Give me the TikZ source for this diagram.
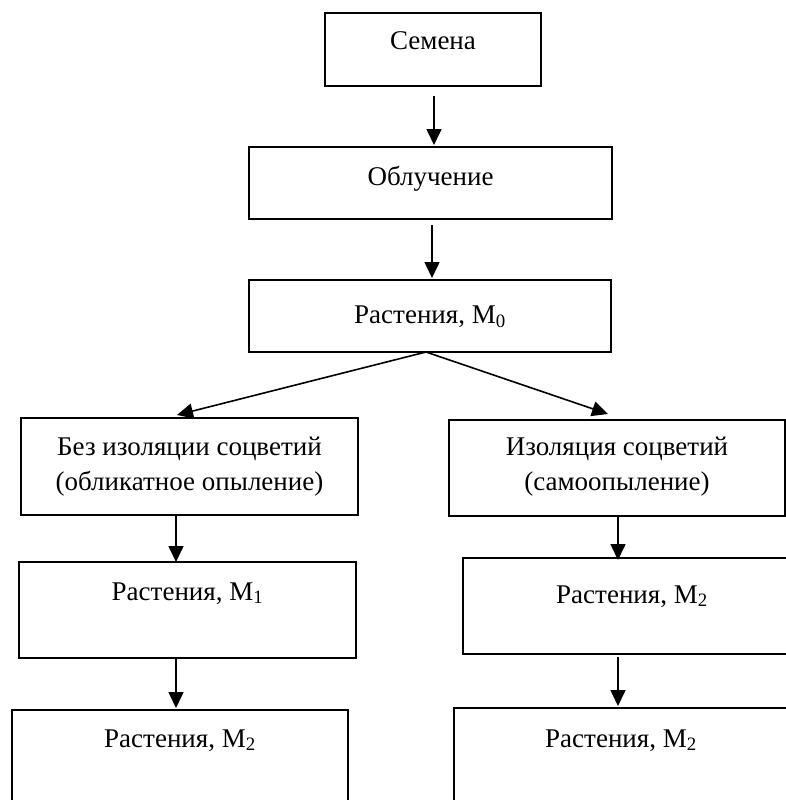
\documentclass[tikz,border=0pt]{standalone}
\usepackage{fontspec}
\setmainfont{Liberation Serif}
\usetikzlibrary{arrows.meta}
\begin{document}
\begin{tikzpicture}[x=1pt,y=-1pt,
  box/.style={draw, line width=1.6pt, inner sep=0pt, outer sep=0pt},
  lbl/.style={anchor=base, inner sep=0pt, font=\fontsize{27}{32}\selectfont},
  arr/.style={line width=1.6pt, -{Triangle[length=16pt,width=15pt]}}]
\fill[white] (0,0) rectangle (786,800);
\useasboundingbox (0,0) rectangle (786,800);
% boxes
\node[box, minimum width=216pt, minimum height=73pt] (semena) at (433,49.5) {};
\node[box, minimum width=363pt, minimum height=72pt] (obl) at (430.5,183) {};
\node[box, minimum width=362pt, minimum height=72pt] (m0) at (430,316) {};
\node[box, minimum width=337pt, minimum height=97pt] (bez) at (189.5,466.5) {};
\node[box, minimum width=336pt, minimum height=96pt] (iso) at (617,468) {};
\node[box, minimum width=337pt, minimum height=96pt] (m1) at (187.5,610) {};
\node[box, minimum width=338pt, minimum height=96pt] (m2r) at (632,606) {};
\node[box, minimum width=336pt, minimum height=110pt] (bl) at (180,765) {};
\node[box, minimum width=334pt, minimum height=110pt] (br) at (621,763) {};
% texts
\node[lbl] (tsemena) at ([yshift=-37pt]semena.north) {Семена};
\node[lbl] (tobl) at ([yshift=-38pt]obl.north) {Облучение};
\node[lbl] (tm0) at ([yshift=-43pt]m0.north) {Растения, M\textsubscript{0}};
\node[lbl] (tbez1) at ([yshift=-37pt]bez.north) {Без изоляции соцветий};
\node[lbl] (tbez2) at ([yshift=-72pt]bez.north) {(обликатное опыление)};
\node[lbl] (tiso1) at ([yshift=-35pt]iso.north) {Изоляция соцветий};
\node[lbl] (tiso2) at ([yshift=-70pt]iso.north) {(самоопыление)};
\node[lbl] (tm1) at ([yshift=-38pt]m1.north) {Растения, M\textsubscript{1}};
\node[lbl] (tm2r) at ([yshift=-45pt]m2r.north) {Растения, M\textsubscript{2}};
\node[lbl] (tbl) at ([yshift=-37pt]bl.north) {Растения, M\textsubscript{2}};
\node[lbl] (tbr) at ([yshift=-39pt]br.north) {Растения, M\textsubscript{2}};
% connectors
\draw[arr] ([xshift=1pt,yshift=-10pt]semena.south) -- ([xshift=3.5pt,yshift=2pt]obl.north);
\draw[arr] ([xshift=1.5pt,yshift=-6pt]obl.south) -- ([xshift=2pt,yshift=2pt]m0.north);
\draw[arr] ([xshift=-4pt]m0.south) -- ([xshift=-12.5pt,yshift=3pt]bez.north);
\draw[arr] ([xshift=-4pt]m0.south) -- ([xshift=-9pt,yshift=6pt]iso.north);
\draw[arr] ([xshift=-13.5pt]bez.south) -- ([xshift=-11.5pt]m1.north);
\draw[arr] ([xshift=1pt]iso.south) -- ([xshift=-14pt,yshift=-2pt]m2r.north);
\draw[arr] ([xshift=-11.5pt]m1.south) -- ([xshift=-4pt,yshift=2pt]bl.north);
\draw[arr] ([xshift=-14pt,yshift=-3pt]m2r.south) -- ([xshift=-3pt,yshift=2pt]br.north);
\end{tikzpicture}
\end{document}
